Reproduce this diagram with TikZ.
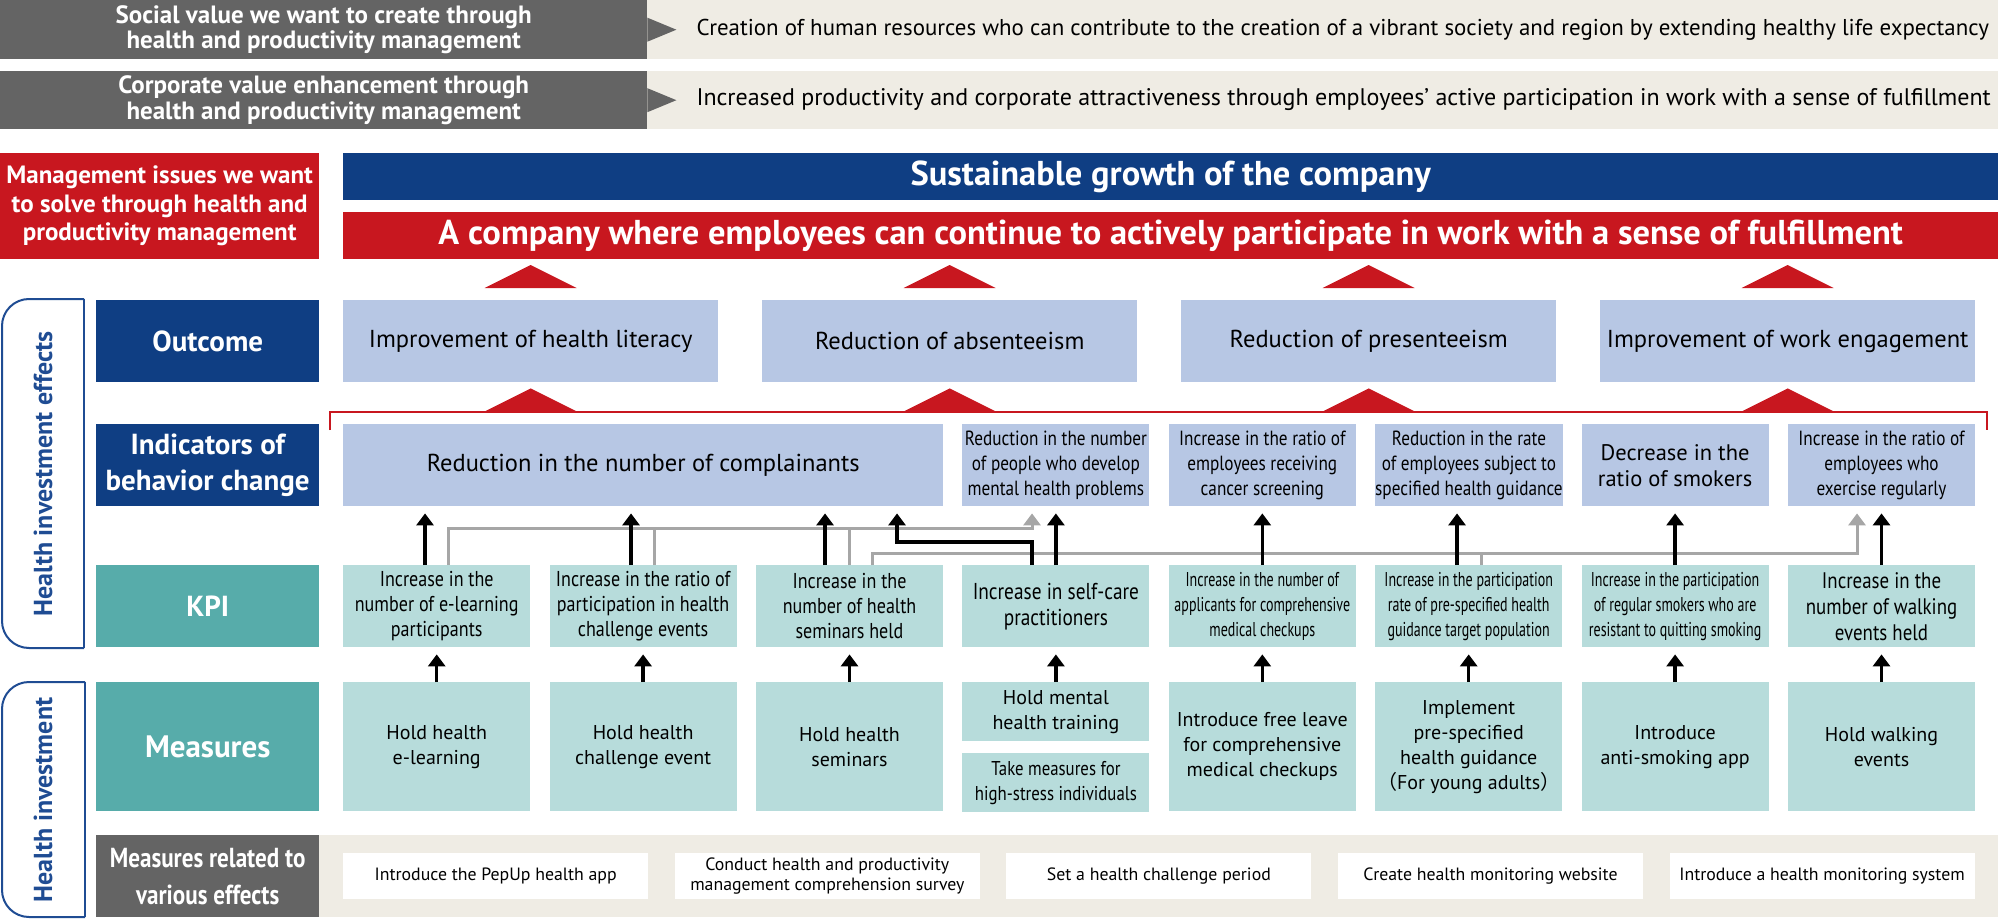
\documentclass[tikz,border=0pt]{standalone}
\usepackage{fontspec}
\setmainfont{PT Sans}
\newfontfamily\narrowfont{PT Sans}[FakeStretch=0.84]
\newfontfamily\xnarrowfont{PT Sans}[FakeStretch=0.7]
\newfontfamily\cjkfont{Noto Sans CJK JP}
\usetikzlibrary{arrows.meta}
\definecolor{sgray}{HTML}{646464}
\definecolor{beige}{HTML}{EFECE4}
\definecolor{mred}{HTML}{C8171F}
\definecolor{navy}{HTML}{0F3E83}
\definecolor{lav}{HTML}{B7C7E4}
\definecolor{kteal}{HTML}{57ACAA}
\definecolor{lteal}{HTML}{B7DCDB}
\definecolor{lgray}{HTML}{A6A6A6}
\definecolor{bblue}{HTML}{1F4C93}
\tikzset{
	box/.style={anchor=north west, inner sep=0pt, align=center},
	lab/.style={box, text=white, minimum width=223pt, minimum height=82pt, font=\bfseries\fontsize{29}{36}\selectfont},
	col/.style={box, minimum width=187pt, minimum height=82pt, font=\narrowfont\fontsize{20.5}{25}\selectfont},
	indi/.style={col, fill=lav},
	kpi/.style={col, fill=lteal},
	meas/.style={col, fill=lteal, minimum height=129pt, font=\fontsize{20}{25}\selectfont},
	big/.style={font=\fontsize{24.5}{28}\selectfont},
	reg/.style={font=\fontsize{22.5}{26}\selectfont},
	xnar/.style={font=\xnarrowfont\fontsize{20}{25}\selectfont},
	band/.style={box, text=white, minimum width=1655pt, minimum height=47pt, font=\bfseries\fontsize{34.5}{38}\selectfont},
	gray/.style={box, fill=sgray, text=white, minimum width=647pt, font=\bfseries\fontsize{25}{25.5}\selectfont},
	wide/.style={anchor=west, font=\fontsize{22.9}{25}\selectfont},
	wbox/.style={box, fill=white, minimum width=305pt, minimum height=46pt, font=\fontsize{17.8}{20.5}\selectfont},
	brace/.style={bblue, line width=2pt},
	side/.style={rotate=90, text=bblue, font=\bfseries\fontsize{26}{30}\selectfont},
	blk/.style={line width=3.5pt, -{Triangle[width=17pt,length=12pt]}, shorten >=7pt},
	gln/.style={line width=3pt, lgray},
	garr/.style={gln, -{Triangle[width=17pt,length=12pt]}, shorten >=7pt},
}
\begin{document}
\begin{tikzpicture}[x=1pt, y=-1pt]
	\useasboundingbox (0,0) rectangle (2000,920);
	\node[gray, minimum height=59pt] (sv) at (0,0) {Social value we want to create through\\health and productivity management};
	\node[gray, minimum height=58pt] (cv) at (0,71) {Corporate value enhancement through\\health and productivity management};
	\fill[beige] (sv.north east) rectangle (1998,59);
	\fill[beige] (cv.north east) rectangle (1998,129);
	\fill[sgray] ([yshift=12pt]sv.east) -- ([xshift=29pt]sv.east) -- ([yshift=-12pt]sv.east) -- cycle;
	\fill[sgray] ([yshift=12pt]cv.east) -- ([xshift=29pt]cv.east) -- ([yshift=-12pt]cv.east) -- cycle;
	\node[wide] (svt) at (693,30) {Creation of human resources who can contribute to the creation of a vibrant society and region by extending healthy life expectancy};
	\node[wide, font=\fontsize{24}{25}\selectfont] (cvt) at (693,100) {Increased productivity and corporate attractiveness through employees' active participation in work with a sense of fulfillment};

	\node[box, fill=mred, text=white, minimum width=319pt, minimum height=106pt, font=\bfseries\fontsize{25}{28.5}\selectfont] (mi) at (0,153) {Management issues we want\\to solve through health and\\productivity management};
	\node[band, fill=navy] (sg) at (343,153) {Sustainable growth of the company};
	\node[band, fill=mred] (ac) at (343,212) {A company where employees can continue to actively participate in work with a sense of fulfillment};

	\node[lab, fill=navy] (lo) at (96,300) {Outcome};
	\node[lab, fill=navy] (li) at (96,424) {Indicators of\\behavior change};
	\node[lab, fill=kteal] (lk) at (96,565) {KPI};
	\node[lab, fill=kteal, minimum height=129pt, font=\bfseries\fontsize{31}{36}\selectfont] (lm) at (96,682) {Measures};
	\node[lab, fill=sgray, font=\narrowfont\bfseries\fontsize{27.5}{37}\selectfont] (lr) at (96,835) {Measures related to\\various effects};

	\draw[brace, rounded corners=27pt] (84,299) -- (2,299) -- (2,648) -- (84,648);
	\draw[brace] (84,299) -- (84,648);
	\node[side] (he) at (43,474) {Health investment effects};
	\draw[brace, rounded corners=27pt] (85,682) -- (2,682) -- (2,917) -- (85,917);
	\draw[brace] (85,682) -- (85,917);
	\node[side] (hi) at (43,800) {Health investment};

	\node[box, fill=lav, minimum width=375pt, minimum height=82pt, big] (oc1) at (343,300) {Improvement of health literacy};
	\node[box, fill=lav, minimum width=375pt, minimum height=82pt, big] (oc2) at (762,300) {Reduction of absenteeism};
	\node[box, fill=lav, minimum width=375pt, minimum height=82pt, big] (oc3) at (1181,300) {Reduction of presenteeism};
	\node[box, fill=lav, minimum width=375pt, minimum height=82pt, big] (oc4) at (1600,300) {Improvement of work engagement};
	\draw[mred, line width=2.5pt] (330,430) |- (1987,412) -- (1987,430);
	\foreach \o in {oc1,oc2,oc3,oc4} {
		\fill[mred] ([xshift=-46pt,yshift=12pt]\o.north) -- ([yshift=35pt]\o.north) -- ([xshift=46pt,yshift=12pt]\o.north) -- cycle;
		\fill[mred] ([xshift=-46pt,yshift=-29pt]\o.south) -- ([yshift=-6pt]\o.south) -- ([xshift=46pt,yshift=-29pt]\o.south) -- cycle;
	}

	\node[indi, minimum width=600pt, big] (ind1) at (343,424) {Reduction in the number of complainants};
	\node[indi] (ind2) at (962.2,424) {Reduction in the number\\of people who develop\\mental health problems};
	\node[indi] (ind3) at (1168.6,424) {Increase in the ratio of\\employees receiving\\cancer screening};
	\node[indi] (ind4) at (1375,424) {Reduction in the rate\\of employees subject to\\specified health guidance};
	\node[indi, reg] (ind5) at (1581.4,424) {Decrease in the\\ratio of smokers};
	\node[indi] (ind6) at (1787.8,424) {Increase in the ratio of\\employees who\\exercise regularly};

	\node[kpi, font=\narrowfont\fontsize{21.5}{25}\selectfont] (kpi1) at (343,565) {Increase in the\\number of e-learning\\participants};
	\node[kpi, font=\narrowfont\fontsize{21.5}{25}\selectfont] (kpi2) at (549.4,565) {Increase in the ratio of\\participation in health\\challenge events};
	\node[kpi, font=\narrowfont\fontsize{21.5}{25}\selectfont] (kpi3) at (755.8,565) {Increase in the\\number of health\\seminars held};
	\node[kpi, font=\narrowfont\fontsize{23}{26}\selectfont] (kpi4) at (962.2,565) {Increase in self-care\\practitioners};
	\node[kpi, xnar] (kpi5) at (1168.6,565) {Increase in the number of\\applicants for comprehensive\\medical checkups};
	\node[kpi, xnar] (kpi6) at (1375,565) {Increase in the participation\\rate of pre-specified health\\guidance target population};
	\node[kpi, xnar] (kpi7) at (1581.4,565) {Increase in the participation\\of regular smokers who are\\resistant to quitting smoking};
	\node[kpi, font=\narrowfont\fontsize{22.5}{26}\selectfont] (kpi8) at (1787.8,565) {Increase in the\\number of walking\\events held};

	\node[meas] (ms1) at (343,682) {Hold health\\e-learning};
	\node[meas] (ms2) at (549.4,682) {Hold health\\challenge event};
	\node[meas] (ms3) at (755.8,682) {Hold health\\seminars};
	\node[meas, minimum height=59pt] (ms4a) at (962.2,682) {Hold mental\\health training};
	\node[meas, minimum height=59pt, font=\narrowfont\fontsize{20}{25}\selectfont] (ms4b) at (962.2,753) {Take measures for\\high-stress individuals};
	\node[meas] (ms5) at (1168.6,682) {Introduce free leave\\for comprehensive\\medical checkups};
	\node[meas] (ms6) at (1375,682) {Implement\\pre-specified\\health guidance\\{\cjkfont （}For young adults{\cjkfont ）}};
	\node[meas] (ms7) at (1581.4,682) {Introduce\\anti-smoking app};
	\node[meas] (ms8) at (1787.8,682) {Hold walking\\events};

	\fill[beige] (lr.north east) rectangle (1998,917);
	\node[wbox] (bt1) at (343,853) {Introduce the PepUp health app};
	\node[wbox] (bt2) at (674.6,853) {Conduct health and productivity\\management comprehension survey};
	\node[wbox] (bt3) at (1006.2,853) {Set a health challenge period};
	\node[wbox] (bt4) at (1337.8,853) {Create health monitoring website};
	\node[wbox] (bt5) at (1669.4,853) {Introduce a health monitoring system};

	\draw[garr] (kpi1.north -| 448,0) |- (1032,528) -- (ind2.south -| 1032,0);
	\draw[gln] (kpi2.north -| 654,0) -- (654,528);
	\draw[gln] (kpi3.north -| 849,0) -- (849,528);
	\draw[garr] (kpi3.north -| 872,0) |- (1857,553) -- (ind6.south -| 1857,0);
	\draw[gln] (kpi6.north -| 1481,0) -- (1481,553);

	\foreach \i in {1,2,3,5,6,7,8}
		\draw[blk] (ms\i.north) -- (kpi\i.south);
	\draw[blk] (ms4a.north) -- (kpi4.south);
	\draw[blk] (kpi1.north -| 425,0) -- (ind1.south -| 425,0);
	\draw[blk] (kpi2.north -| 631,0) -- (ind1.south -| 631,0);
	\draw[blk] (kpi3.north -| 825,0) -- (ind1.south -| 825,0);
	\draw[blk] (kpi4.north -| 1032,0) |- (897,542) -- (ind1.south -| 897,0);
	\draw[blk] (kpi4.north) -- (ind2.south);
	\draw[blk] (kpi5.north) -- (ind3.south);
	\draw[blk] (kpi6.north -| 1457,0) -- (ind4.south -| 1457,0);
	\draw[blk] (kpi7.north) -- (ind5.south);
	\draw[blk] (kpi8.north) -- (ind6.south);
\end{tikzpicture}
\end{document}
